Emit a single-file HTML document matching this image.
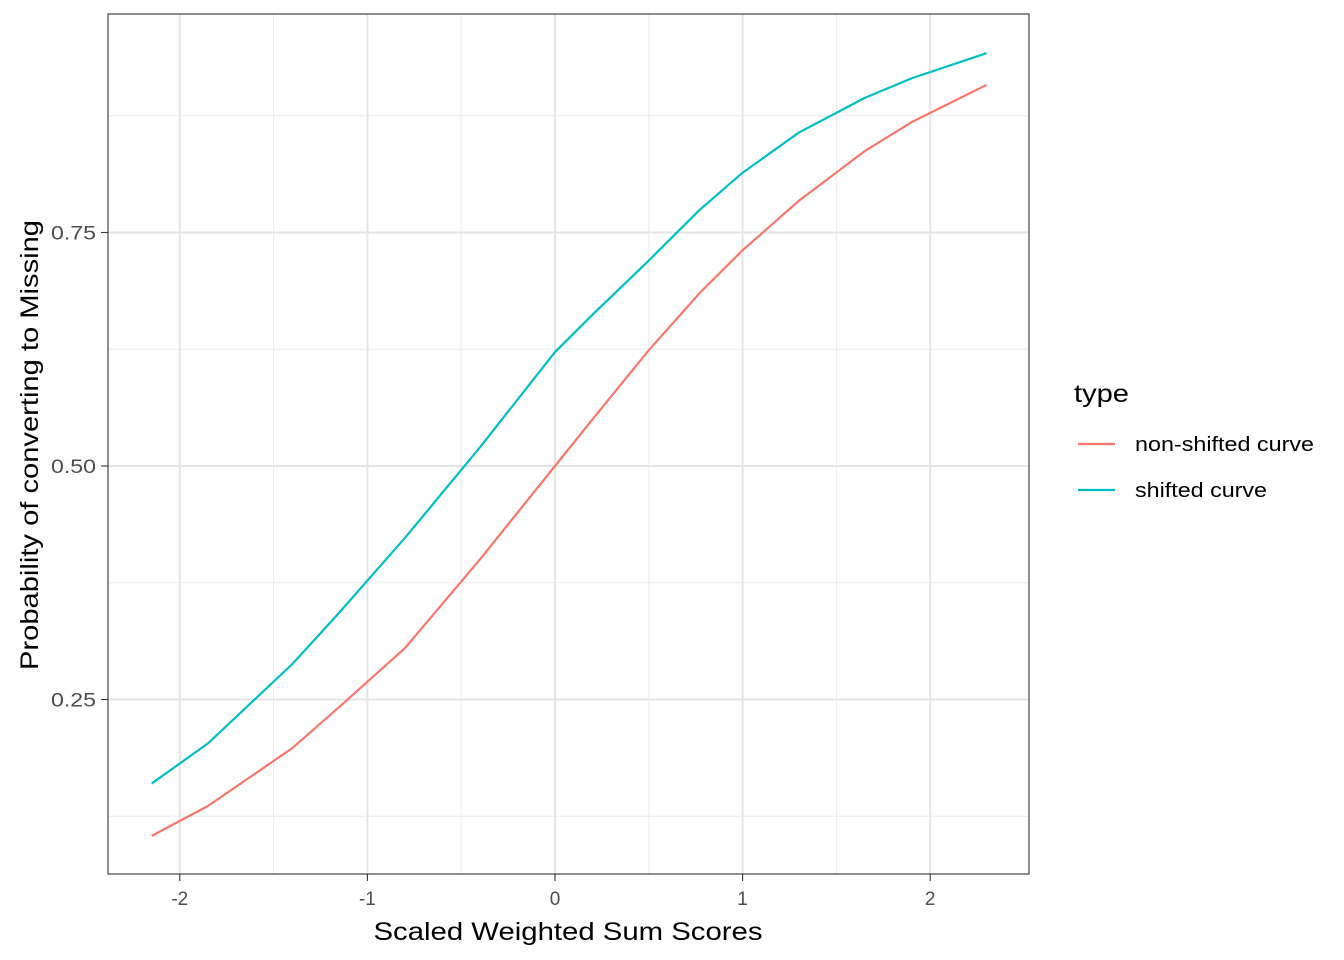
<!DOCTYPE html>
<html><head><meta charset="utf-8"><style>body{margin:0;background:#fff}svg{display:block;font-family:"Liberation Sans",Arial,sans-serif}</style></head>
<body>
<svg id="chart" width="1344" height="960" xmlns="http://www.w3.org/2000/svg">
<rect x="108" y="14" width="921" height="860" fill="#fff"/>
<g id="grid"></g><g id="series"></g>
<rect x="108" y="14" width="921" height="860" fill="none" stroke="#333" stroke-width="1.1"/>
<g id="axes" font-size="19" fill="#4d4d4d"></g>
<text x="568" y="940" font-size="25" text-anchor="middle" textLength="389" lengthAdjust="spacingAndGlyphs" fill="#000">Scaled Weighted Sum Scores</text>
<text transform="translate(38,445) rotate(-90)" font-size="25" text-anchor="middle" textLength="450" lengthAdjust="spacingAndGlyphs" fill="#000">Probability of converting to Missing</text>
<g>
<text x="1074" y="402" font-size="25" textLength="55" lengthAdjust="spacingAndGlyphs" fill="#000">type</text>
<line x1="1078" x2="1115" y1="444" y2="444" stroke="#F8766D" stroke-width="2.2"/>
<text x="1135" y="451" font-size="20" textLength="179" lengthAdjust="spacingAndGlyphs" fill="#000">non-shifted curve</text>
<line x1="1078" x2="1115" y1="490" y2="490" stroke="#00BFC4" stroke-width="2.2"/>
<text x="1135" y="497" font-size="20" textLength="132" lengthAdjust="spacingAndGlyphs" fill="#000">shifted curve</text>
</g>
</svg>
<script>
const xValues=[-2.15,-1.85,-1.4,-1.15,-0.8,-0.4,0,0.2,0.5,0.77,1.0,1.3,1.65,1.9,2.3];
const nonShifted=[0.104,0.136,0.198,0.242,0.305,0.40,0.5,0.55,0.624,0.685,0.731,0.784,0.837,0.868,0.908];
const shifted=[0.160,0.203,0.288,0.343,0.423,0.52,0.622,0.662,0.720,0.774,0.814,0.857,0.894,0.915,0.942];
const xTicks=[-2,-1,0,1,2];
const xTickLabels=["-2","-1","0","1","2"];
const yTicks=[0.25,0.5,0.75];
const yTickLabels=["0.25","0.50","0.75"];
const xMinor=[-1.5,-0.5,0.5,1.5];
const yMinor=[0.125,0.375,0.625,0.875];
const X=v=>555+v*187.6, Y=v=>933-v*934;
const NS="http://www.w3.org/2000/svg";
function mk(parent,tag,attrs){const e=document.createElementNS(NS,tag);for(const k in attrs)e.setAttribute(k,attrs[k]);parent.appendChild(e);return e;}
const g=document.getElementById('grid'),ax=document.getElementById('axes'),s=document.getElementById('series');
xMinor.forEach(v=>{const l=mk(g,'line',{x1:X(v),x2:X(v),y1:14,y2:874,stroke:'#ebebeb','stroke-width':1});

});
yMinor.forEach(v=>{const l=mk(g,'line',{x1:108,x2:1029,y1:Y(v),y2:Y(v),stroke:'#ebebeb','stroke-width':1});

});
xTicks.forEach((v,i)=>{const l=mk(g,'line',{x1:X(v),x2:X(v),y1:14,y2:874,stroke:'#e5e5e5','stroke-width':2});


const t=mk(ax,'line',{x1:X(v),x2:X(v),y1:874,y2:881,stroke:'#333','stroke-width':1.1});


const tx=mk(ax,'text',{x:X(v),y:905,'text-anchor':'middle'});tx.textContent=xTickLabels[i];

});
yTicks.forEach((v,i)=>{const l=mk(g,'line',{x1:108,x2:1029,y1:Y(v),y2:Y(v),stroke:'#e5e5e5','stroke-width':2});


const t=mk(ax,'line',{x1:101,x2:108,y1:Y(v),y2:Y(v),stroke:'#333','stroke-width':1.1});


const tx=mk(ax,'text',{x:96,y:Y(v)+7,'text-anchor':'end',textLength:45,lengthAdjust:'spacingAndGlyphs'});tx.textContent=yTickLabels[i];

});
function line(vals,color,name){const p=mk(s,'polyline',{points:xValues.map((x,i)=>X(x)+','+Y(vals[i])).join(' '),fill:'none',stroke:color,'stroke-width':2.2,'stroke-linejoin':'round'});

}
line(nonShifted,'#F8766D','non-shifted-curve');
line(shifted,'#00BFC4','shifted-curve');
</script>
</body></html>
